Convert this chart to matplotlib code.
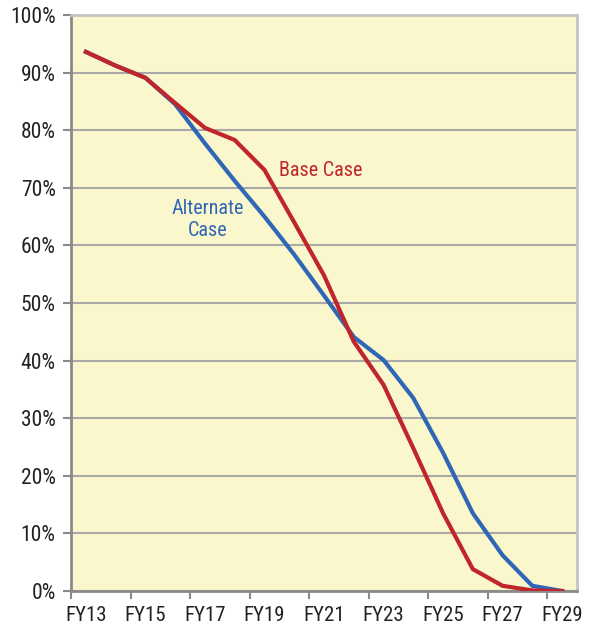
import matplotlib
matplotlib.use("Agg")
import matplotlib.pyplot as plt
from matplotlib.ticker import FixedLocator, FuncFormatter

years = ["FY%d" % y for y in range(13, 30)]
base_case = [93.6, 91.2, 89.1, 84.7, 80.4, 78.3, 73.1, 64.0, 54.8, 43.3,
             35.8, 24.8, 13.5, 3.8, 0.9, 0.1, 0.0]
alternate_case = [93.6, 91.2, 89.1, 84.5, 77.7, 71.2, 65.0, 58.4, 51.3, 44.1,
                  40.1, 33.5, 24.0, 13.5, 6.2, 0.9, 0.0]
y_ticks = list(range(0, 101, 10))

plt.rcParams['font.family'] = ['Roboto Condensed', 'DejaVu Sans']

fig = plt.figure(figsize=(5.97, 6.28), dpi=100)
ax = fig.add_axes([71 / 597, 37 / 628, 506 / 597, 576 / 628])
ax.set_facecolor('#faf7cc')

x = list(range(len(years)))
ax.plot(x, alternate_case, color='#2f66b6', linewidth=3, solid_joinstyle='miter', zorder=3)
ax.plot(x, base_case, color='#c0252c', linewidth=3, solid_joinstyle='miter', zorder=4)

ax.set_xlim(-0.5, len(years) - 0.5)
ax.set_ylim(0, 100)

# category labels every other year, tick marks on the boundaries
ax.xaxis.set_major_locator(FixedLocator(x[::2]))
ax.set_xticklabels(years[::2])
ax.tick_params(axis='x', which='major', length=0, pad=11, labelsize=15, labelcolor='#222222')
ax.xaxis.set_minor_locator(FixedLocator([i - 0.5 for i in x[::2]]))
ax.tick_params(axis='x', which='minor', length=6, width=1.5, color='#8a8a8a', direction='out')

ax.set_yticks(y_ticks)
ax.yaxis.set_major_formatter(FuncFormatter(lambda v, p: "%d%%" % v))
ax.tick_params(axis='y', length=6, width=1.5, color='#8a8a8a', labelsize=15.5,
               labelcolor='#222222', pad=5)

ax.grid(axis='y', color='#a9a9a9', linewidth=1.5)
ax.set_axisbelow(True)

for side in ['left', 'bottom']:
    ax.spines[side].set_color('#8a8a8a')
    ax.spines[side].set_linewidth(2)
for side in ['top', 'right']:
    ax.spines[side].set_color('#c4c4c4')
    ax.spines[side].set_linewidth(2)

ax.text(7.9, 73.0, "Base Case", color='#c0252c', fontsize=14.5, ha='center', va='center')
ax.text(4.1, 64.5, "Alternate\nCase", color='#2f66b6', fontsize=14.5, ha='center', va='center',
        linespacing=1.15)

fig.savefig("out.png", dpi=100)
